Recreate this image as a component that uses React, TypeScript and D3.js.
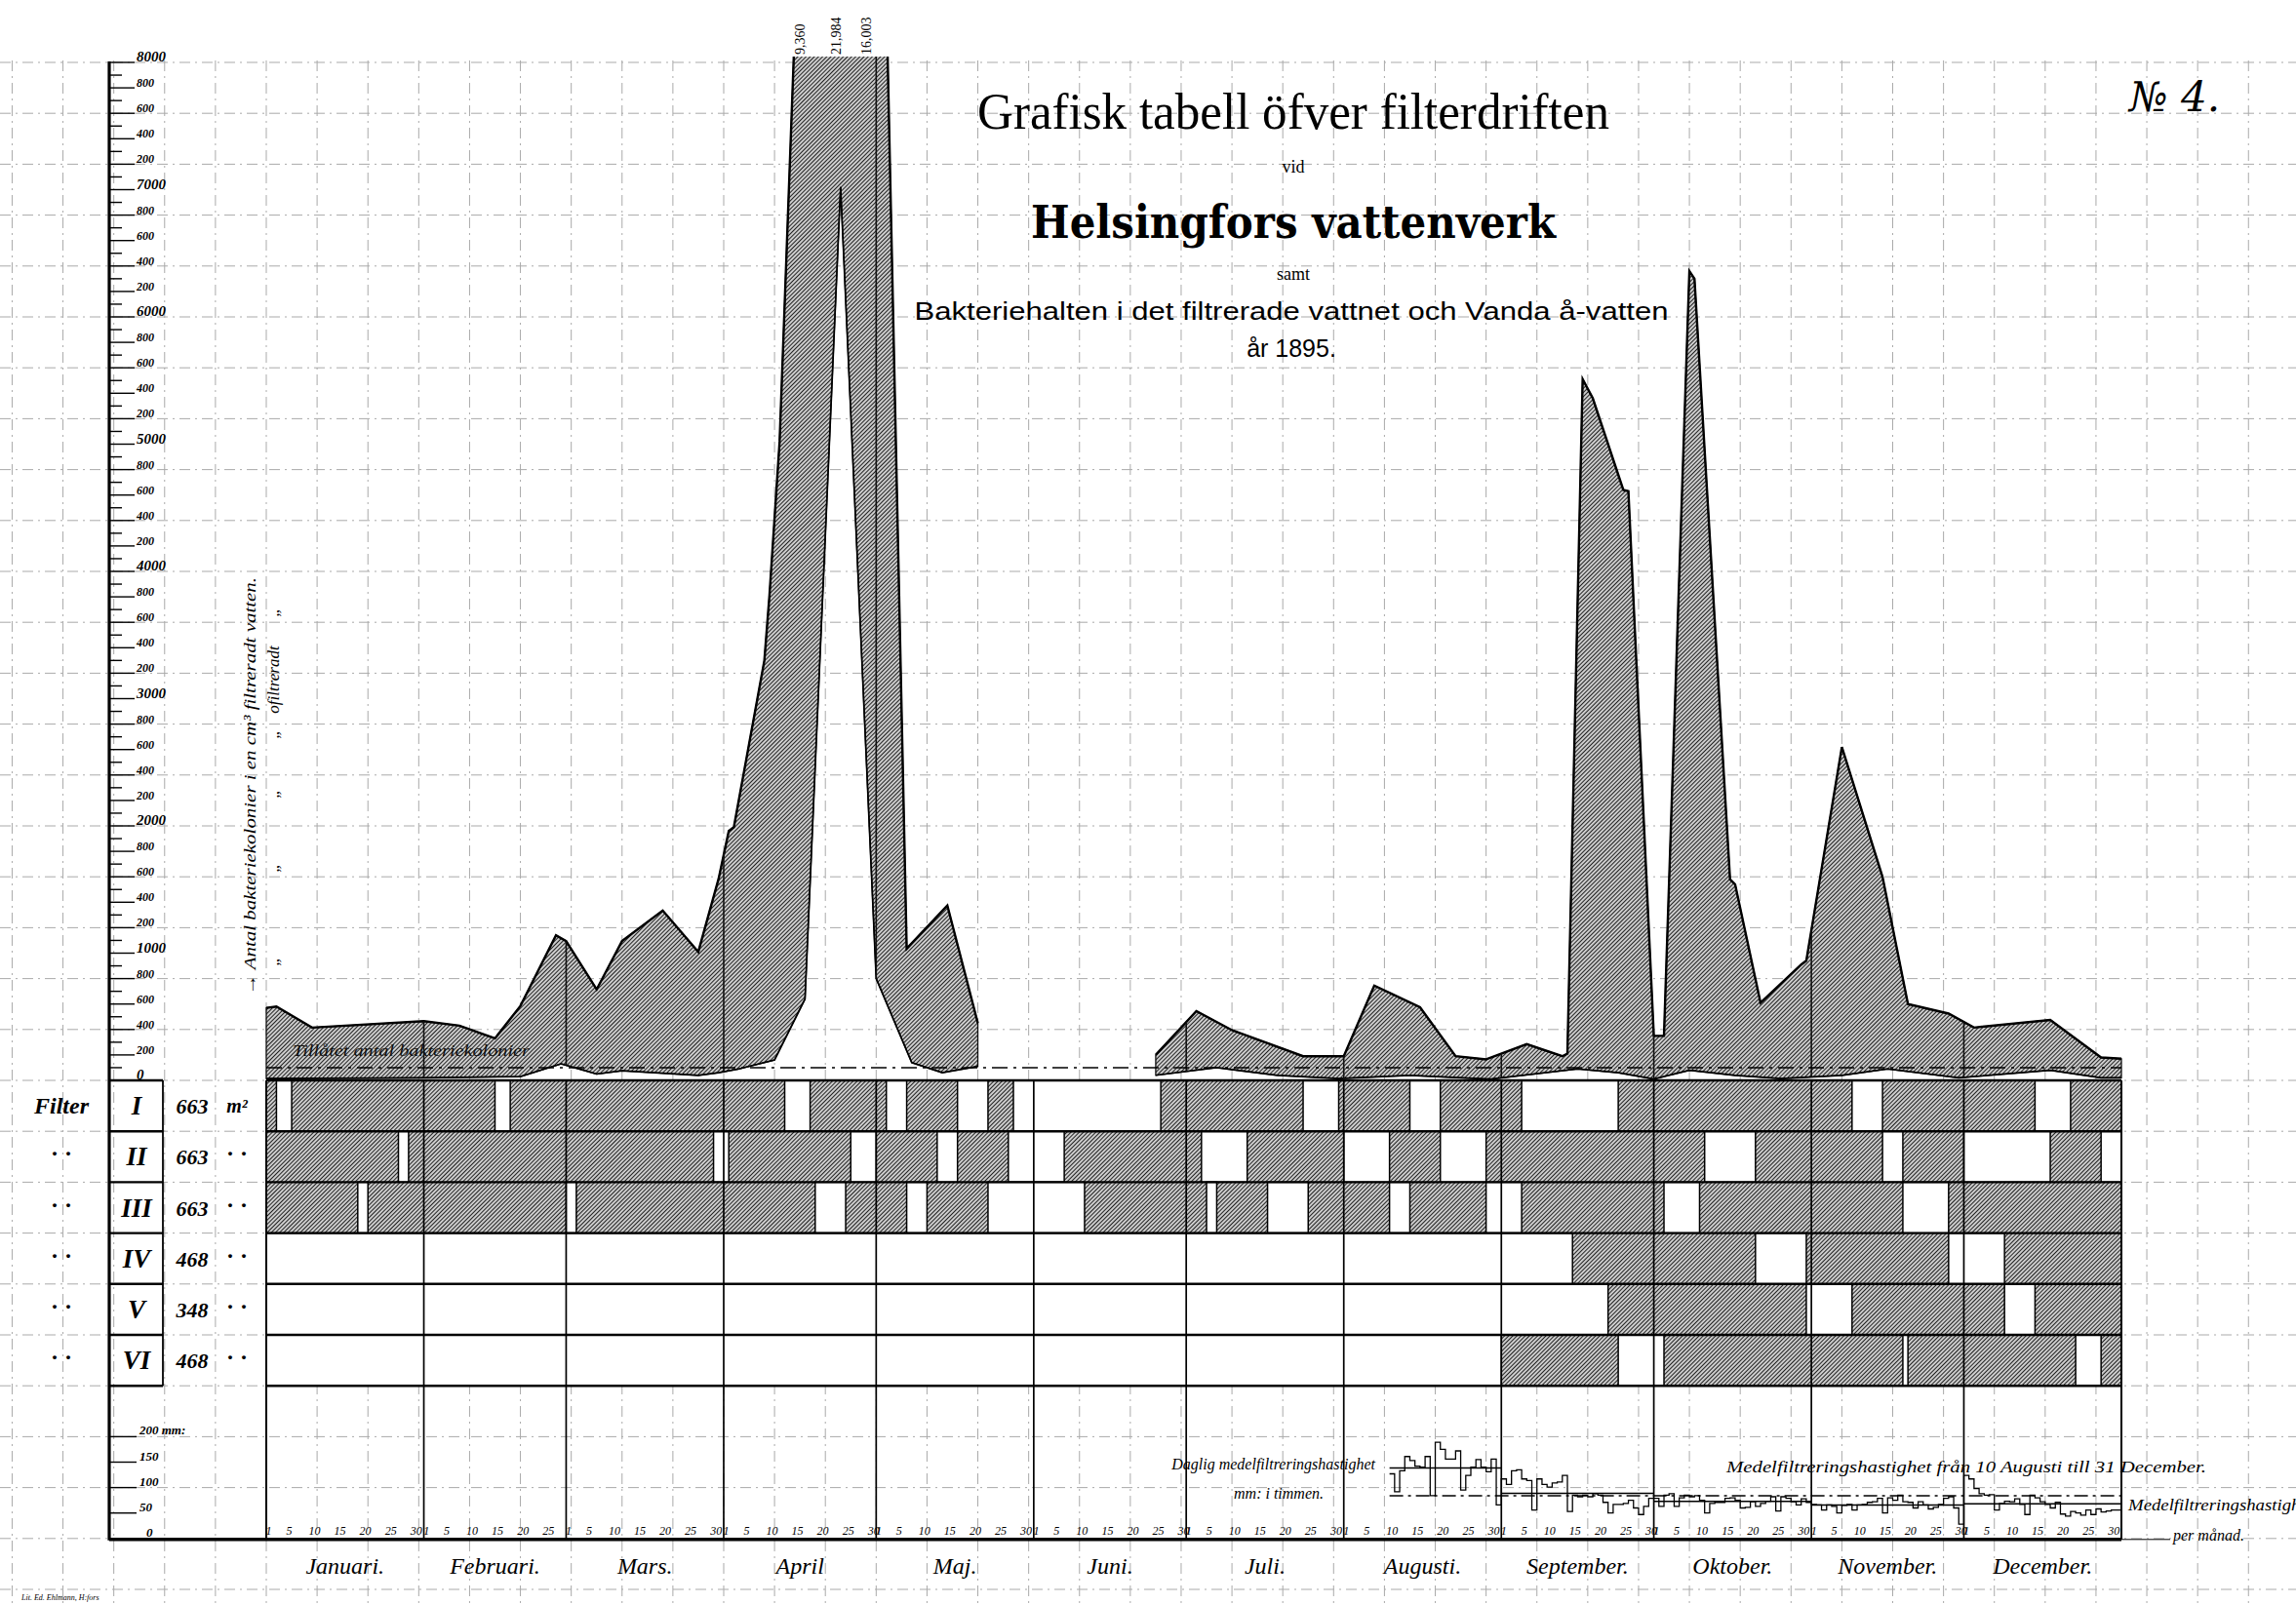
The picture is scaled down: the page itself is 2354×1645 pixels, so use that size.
import { useEffect, useRef } from 'react';
import * as d3 from 'd3';

const W = 2354;
const H = 1645;

// Vanda å-vatten (ofiltreradt), bakteriekolonier i en cm³
const rawDatesSpring = ['01-01', '01-03', '01-10', '02-01', '02-08', '02-15', '02-20', '02-27', '03-01', '03-07', '03-12', '03-20', '03-27', '03-31', '04-02', '04-03', '04-09', '04-10', '04-12', '04-16', '04-23', '04-29', '05-07', '05-15', '05-21'];
const rawValuesSpring = [570, 580, 415, 465, 430, 330, 585, 1140, 1095, 715, 1095, 1335, 1010, 1585, 1960, 1990, 3300, 3810, 5020, 9360, 21984, 16003, 1035, 1375, 450];
const rawDatesAutumn = ['06-25', '07-03', '07-10', '07-24', '08-01', '08-07', '08-16', '08-23', '08-29', '09-06', '09-13', '09-14', '09-17', '09-19', '09-25', '09-26', '10-01', '10-03', '10-08', '10-09', '10-16', '10-17', '10-22', '10-30', '10-31', '11-07', '11-15', '11-20', '11-28', '12-03', '12-18', '12-28', '12-31'];
const rawValuesAutumn = [200, 545, 395, 190, 190, 745, 575, 190, 165, 285, 190, 210, 5510, 5360, 4640, 4630, 350, 350, 6360, 6300, 1580, 1540, 610, 910, 940, 2620, 1600, 600, 525, 415, 475, 180, 170];

// filtreradt vatten
const filtDatesSpring = ['01-01', '02-01', '02-20', '02-28', '03-07', '03-12', '03-27', '03-31', '04-04', '04-11', '04-17', '04-24', '05-01', '05-08', '05-14', '05-21'];
const filtValuesSpring = [15, 20, 30, 130, 50, 75, 40, 60, 90, 160, 640, 7020, 800, 140, 60, 110];
const filtDatesAutumn = ['06-25', '07-07', '07-19', '07-31', '08-14', '08-30', '09-16', '09-24', '10-01', '10-08', '10-17', '10-26', '11-07', '11-16', '11-30', '12-18', '12-28', '12-31'];
const filtValuesAutumn = [40, 100, 40, 15, 40, 10, 90, 60, 10, 80, 40, 15, 40, 90, 20, 80, 20, 20];

const allowedCount = 100;

const peakDates = ['04-16', '04-23', '04-29'];
const peakLabels = ['9,360', '21,984', '16,003'];

// filters: name, area (m²), days out of service (inclusive)
const filterNames = ['I', 'II', 'III', 'IV', 'V', 'VI'];
const filterAreas = ['663', '663', '663', '468', '348', '468'];
const idleI = [['01-03', '01-05'], ['02-15', '02-17'], ['04-13', '04-17'], ['05-03', '05-06'], ['05-17', '05-22'], ['05-28', '06-25'], ['07-24', '07-30'], ['08-14', '08-19'], ['09-05', '09-23'], ['11-09', '11-14'], ['12-15', '12-21']];
const idleII = [['01-27', '01-28'], ['03-30', '04-01'], ['04-26', '04-30'], ['05-13', '05-16'], ['05-27', '06-06'], ['07-04', '07-12'], ['08-01', '08-09'], ['08-20', '08-28'], ['10-11', '10-20'], ['11-15', '11-18'], ['12-01', '12-17'], ['12-28', '12-31']];
const idleIII = [['01-19', '01-20'], ['03-01', '03-02'], ['04-19', '04-24'], ['05-07', '05-10'], ['05-23', '06-10'], ['07-05', '07-06'], ['07-17', '07-24'], ['08-10', '08-13'], ['08-29', '09-04'], ['10-03', '10-09'], ['11-19', '11-27']];
const idleIV = [['01-01', '09-14'], ['10-21', '10-30'], ['11-28', '12-08']];
const idleV = [['01-01', '09-21'], ['10-31', '11-08'], ['12-09', '12-14']];
const idleVI = [['01-01', '08-31'], ['09-24', '10-02'], ['11-19', '11-19'], ['12-23', '12-27']];

const months = ['Januari.', 'Februari.', 'Mars.', 'April', 'Maj.', 'Juni.', 'Juli.', 'Augusti.', 'September.', 'Oktober.', 'November.', 'December.'];
const dayTicks = [1, 5, 10, 15, 20, 25, 30];

// daglig medelfiltreringshastighet, mm i timmen (from 10 Aug)
const rateAug = [127, 92, 133, 161, 153, 142, 140, 161, 84, 189, 175, 156, 156, 172, 95, 124, 140, 155, 140, 131, 156, 66];
const rateSep = [117, 106, 133, 135, 117, 114, 56, 117, 106, 101, 109, 111, 124, 53, 85, 82, 85, 82, 88, 85, 71, 50, 67, 67, 69, 75, 60, 47, 63, 79];
const rateOct = [79, 63, 85, 88, 63, 80, 85, 82, 84, 75, 50, 69, 71, 71, 79, 80, 75, 60, 61, 72, 63, 69, 73, 82, 54, 82, 79, 72, 66, 78, 71];
const rateNov = [67, 66, 56, 66, 63, 50, 65, 67, 56, 66, 67, 71, 72, 79, 50, 80, 75, 85, 72, 71, 60, 72, 66, 58, 61, 67, 79, 82, 60, 28];
const rateDec = [124, 117, 98, 88, 85, 86, 56, 69, 73, 72, 78, 67, 47, 85, 80, 72, 67, 60, 71, 48, 44, 53, 50, 46, 56, 47, 58, 52, 54, 56, 56];
const rateStarts = ['08-10', '09-01', '10-01', '11-01', '12-01'];

const mmTicks = [0, 50, 100, 150, 200];

const SERIF = '"Liberation Serif", "DejaVu Serif", serif';
const SANS = '"Liberation Sans", "DejaVu Sans", sans-serif';

function day(s: string) {
  const [m, d] = s.split('-').map(Number);
  return new Date(1895, m - 1, d);
}
// curve points: the last day of the year is drawn to the right edge
function edge(s: string) {
  return s === '12-31' ? new Date(1896, 0, 1) : day(s);
}

function draw(svg: any) {
  const X0 = 273;
  const X1 = 2175;
  const x = d3.scaleTime().domain([new Date(1895, 0, 1), new Date(1896, 0, 1)]).range([X0, X1]);
  const dayW = (X1 - X0) / 365;
  const y = d3.scaleLinear().domain([0, 8000]).range([1108, 64]);
  const GRID = (1108 - 64) / 20;
  const rowY = (i: number) => 1108 + i * GRID;
  const mm = d3.scaleLinear().domain([0, 200]).range([rowY(9), rowY(7)]);
  const AX = 112;

  svg.append('rect').attr('width', W).attr('height', H).attr('fill', '#fff');

  const defs = svg.append('defs');
  const pat = defs.append('pattern').attr('id', 'hatch').attr('patternUnits', 'userSpaceOnUse')
    .attr('width', 3).attr('height', 3).attr('patternTransform', 'rotate(45)');
  pat.append('rect').attr('width', 3).attr('height', 3).attr('fill', '#fff');
  pat.append('line').attr('x1', 1.5).attr('x2', 1.5).attr('y1', 0).attr('y2', 3)
    .attr('stroke', '#222').attr('stroke-width', 1.45);
  defs.append('clipPath').attr('id', 'topclip').append('rect')
    .attr('x', 0).attr('y', 58).attr('width', W).attr('height', 1108 - 58);

  // graph paper grid
  const grid = svg.append('g').attr('stroke', '#666').attr('stroke-width', 1)
    .attr('stroke-dasharray', '11 5 2 5').attr('opacity', 0.55);
  for (let k = -6; k <= 42; k++) {
    const gx = X0 + k * 10 * dayW;
    if (gx < 0 || gx > W) continue;
    grid.append('line').attr('x1', gx).attr('x2', gx).attr('y1', 62).attr('y2', H);
  }
  for (let k = 0; k <= 30; k++) {
    const gy = 64 + k * GRID;
    if (gy > H) break;
    grid.append('line').attr('x1', 0).attr('x2', W).attr('y1', gy).attr('y2', gy);
  }

  // bacteria band between unfiltered and filtered counts
  const segments = [
    { up: rawDatesSpring.map((d, i) => [d, rawValuesSpring[i]]), lo: filtDatesSpring.map((d, i) => [d, filtValuesSpring[i]]) },
    { up: rawDatesAutumn.map((d, i) => [d, rawValuesAutumn[i]]), lo: filtDatesAutumn.map((d, i) => [d, filtValuesAutumn[i]]) },
  ];
  const toPt = (p: any) => [x(edge(p[0])), y(p[1])] as [number, number];
  const line = d3.line();
  const polys = segments.map(s => line([...s.up.map(toPt), ...s.lo.slice().reverse().map(toPt)]) + 'Z');

  const areaClip = defs.append('clipPath').attr('id', 'areaclip');
  polys.forEach(p => areaClip.append('path').attr('d', p));

  const band = svg.append('g').attr('clip-path', 'url(#topclip)');
  polys.forEach(p => band.append('path').attr('d', p).attr('fill', 'url(#hatch)')
    .attr('stroke', '#111').attr('stroke-width', 1.3));

  const monthStarts = d3.timeMonth.range(new Date(1895, 0, 1), new Date(1896, 0, 1));
  const inner = svg.append('g').attr('clip-path', 'url(#areaclip)');
  monthStarts.slice(1).forEach(m => inner.append('line').attr('x1', x(m)).attr('x2', x(m))
    .attr('y1', 58).attr('y2', 1108).attr('stroke', '#111').attr('stroke-width', 1.6));

  segments.forEach(s => {
    band.append('path').attr('d', line(s.up.map(toPt))).attr('fill', 'none')
      .attr('stroke', '#000').attr('stroke-width', 2.4);
    band.append('path').attr('d', line(s.lo.map(toPt))).attr('fill', 'none')
      .attr('stroke', '#000').attr('stroke-width', 1.7);
  });

  // allowed number of colonies
  svg.append('line').attr('x1', X0).attr('x2', X1).attr('y1', y(allowedCount)).attr('y2', y(allowedCount))
    .attr('stroke', '#000').attr('stroke-width', 1.6).attr('stroke-dasharray', '16 6 3 6');
  svg.append('text').attr('x', 300).attr('y', 1083).attr('font-family', SERIF).attr('font-style', 'italic')
    .attr('font-size', 16).attr('textLength', 243).attr('lengthAdjust', 'spacingAndGlyphs')
    .attr('fill', '#111').text('Tillåtet antal bakteriekolonier');

  peakDates.forEach((d, i) => {
    svg.append('text').attr('transform', `translate(${x(day(d)) + 5},56) rotate(-90)`)
      .attr('font-family', SERIF).attr('font-size', 14).attr('fill', '#000').text(peakLabels[i]);
  });

  // filter rows
  const idle = [idleI, idleII, idleIII, idleIV, idleV, idleVI];
  filterNames.forEach((name, i) => {
    const top = rowY(i);
    svg.append('rect').attr('x', X0).attr('y', top).attr('width', X1 - X0).attr('height', GRID)
      .attr('fill', 'url(#hatch)');
    idle[i].forEach(([a, b]) => {
      svg.append('rect').attr('x', x(day(a))).attr('y', top)
        .attr('width', x(day(b)) + dayW - x(day(a))).attr('height', GRID)
        .attr('fill', '#fff').attr('stroke', '#000').attr('stroke-width', 1.5);
    });
    const cy = top + GRID / 2;
    svg.append('text').attr('x', 140).attr('y', cy + 9).attr('text-anchor', 'middle')
      .attr('font-family', SERIF).attr('font-weight', 'bold').attr('font-style', 'italic')
      .attr('font-size', 27).text(name);
    svg.append('text').attr('x', 197).attr('y', cy + 8).attr('text-anchor', 'middle')
      .attr('font-family', SERIF).attr('font-weight', 'bold').attr('font-style', 'italic')
      .attr('font-size', 22).text(filterAreas[i]);
    if (i === 0) {
      svg.append('text').attr('x', 63).attr('y', cy + 8).attr('text-anchor', 'middle')
        .attr('font-family', SERIF).attr('font-weight', 'bold').attr('font-style', 'italic')
        .attr('font-size', 24).text('Filter');
      svg.append('text').attr('x', 243).attr('y', cy + 7).attr('text-anchor', 'middle')
        .attr('font-family', SERIF).attr('font-weight', 'bold').attr('font-style', 'italic')
        .attr('font-size', 20).text('m²');
    } else {
      [63, 243].forEach(tx => svg.append('text').attr('x', tx).attr('y', cy + 5).attr('text-anchor', 'middle')
        .attr('font-family', SERIF).attr('font-weight', 'bold').attr('font-size', 24).text('· ·'));
    }
  });

  const ink = svg.append('g').attr('stroke', '#000');
  for (let i = 0; i <= 6; i++) {
    ink.append('line').attr('x1', AX).attr('x2', 167).attr('y1', rowY(i)).attr('y2', rowY(i)).attr('stroke-width', 2.4);
    ink.append('line').attr('x1', X0).attr('x2', X1).attr('y1', rowY(i)).attr('y2', rowY(i)).attr('stroke-width', 2.4);
  }
  ink.append('line').attr('x1', AX).attr('x2', X1).attr('y1', mm(0) + 1).attr('y2', mm(0) + 1).attr('stroke-width', 3.5);
  ink.append('line').attr('x1', AX).attr('x2', AX).attr('y1', 63).attr('y2', mm(0) + 2).attr('stroke-width', 3.2);
  ink.append('line').attr('x1', 167).attr('x2', 167).attr('y1', rowY(0)).attr('y2', rowY(6)).attr('stroke-width', 1.8);
  [X0, X1].forEach(vx => ink.append('line').attr('x1', vx).attr('x2', vx).attr('y1', rowY(0)).attr('y2', mm(0) + 1).attr('stroke-width', 2));
  monthStarts.slice(1).forEach(m => ink.append('line').attr('x1', x(m)).attr('x2', x(m))
    .attr('y1', rowY(0)).attr('y2', mm(0) + 1).attr('stroke-width', 1.7));
  ink.append('line').attr('x1', X1).attr('x2', 2225).attr('y1', mm(0) + 1).attr('y2', mm(0) + 1).attr('stroke-width', 1);

  // bacteria scale
  d3.range(0, 8001, 100).forEach(v => {
    const ty = y(v);
    const major = v % 200 === 0;
    ink.append('line').attr('x1', AX).attr('x2', AX + (major ? 26 : 13)).attr('y1', ty).attr('y2', ty)
      .attr('stroke-width', 1.4);
    if (major) {
      const thousand = v % 1000 === 0;
      svg.append('text').attr('x', 140).attr('y', ty - 1).attr('font-family', SERIF)
        .attr('font-style', 'italic').attr('font-weight', 'bold').attr('font-size', thousand ? 15 : 12)
        .text(thousand ? String(v) : String(v % 1000));
    }
  });

  // mm scale
  mmTicks.forEach(v => {
    ink.append('line').attr('x1', AX).attr('x2', AX + 28).attr('y1', mm(v)).attr('y2', mm(v)).attr('stroke-width', 1.4);
    svg.append('text').attr('x', v === 0 ? 150 : 143).attr('y', mm(v) - 2).attr('font-family', SERIF)
      .attr('font-style', 'italic').attr('font-weight', 'bold').attr('font-size', 13)
      .text(v === 200 ? '200 mm:' : String(v));
  });

  // day numbers and month names
  monthStarts.forEach((m, mi) => {
    const next = d3.timeMonth.offset(m, 1);
    const len = d3.timeDay.count(m, next);
    dayTicks.filter(d => d <= len).forEach(d => {
      const dd = d3.timeDay.offset(m, d - 1);
      svg.append('text').attr('x', x(dd) + dayW / 2).attr('y', 1574).attr('text-anchor', 'middle')
        .attr('font-family', SERIF).attr('font-style', 'italic').attr('font-size', 12).text(String(d));
    });
    svg.append('text').attr('x', (x(m) + x(next)) / 2).attr('y', 1614).attr('text-anchor', 'middle')
      .attr('font-family', SERIF).attr('font-style', 'italic').attr('font-size', 24).text(months[mi]);
  });

  // filtration rate steps
  const rates = [rateAug, rateSep, rateOct, rateNov, rateDec];
  const daily: [Date, number][] = [];
  rates.forEach((arr, k) => arr.forEach((v, i) => daily.push([d3.timeDay.offset(day(rateStarts[k]), i), v])));
  const stepPts = daily.map(([d, v]) => [x(d), mm(v)] as [number, number]);
  stepPts.push([X1, mm(daily[daily.length - 1][1])]);
  svg.append('path').attr('d', d3.line().curve(d3.curveStepAfter)(stepPts)).attr('fill', 'none')
    .attr('stroke', '#000').attr('stroke-width', 1.3);

  const overall = d3.mean(daily, d => d[1]) as number;
  svg.append('line').attr('x1', x(day(rateStarts[0]))).attr('x2', X1).attr('y1', mm(overall)).attr('y2', mm(overall))
    .attr('stroke', '#000').attr('stroke-width', 1.5).attr('stroke-dasharray', '14 5 3 5');
  rates.forEach((arr, k) => {
    const a = day(rateStarts[k]);
    const b = d3.timeDay.offset(a, arr.length);
    const mv = d3.mean(arr) as number;
    svg.append('line').attr('x1', x(a)).attr('x2', x(b)).attr('y1', mm(mv)).attr('y2', mm(mv))
      .attr('stroke', '#000').attr('stroke-width', 1.5);
  });

  const note = (tx: number, ty: number, t: string, anchor = 'start', len?: number) => {
    const el = svg.append('text').attr('x', tx).attr('y', ty).attr('text-anchor', anchor)
      .attr('font-family', SERIF).attr('font-style', 'italic').attr('font-size', 16).text(t);
    if (len) el.attr('textLength', len).attr('lengthAdjust', 'spacingAndGlyphs');
  };
  note(1410, 1507, 'Daglig medelfiltreringshastighet', 'end');
  note(1357, 1537, 'mm: i timmen.', 'end');
  note(1770, 1510, 'Medelfiltreringshastighet från 10 Augusti till 31 December.', 'start', 492);
  note(2182, 1549, 'Medelfiltreringshastighet', 'start', 190);
  note(2228, 1580, 'per månad.');

  // axis caption
  svg.append('text').attr('transform', 'translate(262,1020) rotate(-90)').attr('font-family', SERIF)
    .attr('font-style', 'italic').attr('font-size', 17).attr('textLength', 428).attr('lengthAdjust', 'spacingAndGlyphs')
    .text('→ Antal bakteriekolonier i en cm³ filtreradt vatten.');
  [[986, '„'], [890, '„'], [814, '„'], [753, '„'], [697, 'ofiltreradt'], [628, '„']].forEach(([ty, t]) => {
    svg.append('text').attr('transform', `translate(286,${ty}) rotate(-90)`).attr('text-anchor', 'middle')
      .attr('font-family', SERIF).attr('font-style', 'italic').attr('font-size', 17).text(t);
  });

  // titles
  const title = (ty: number, t: string, size: number, opts: any = {}) => {
    const el = svg.append('text').attr('x', opts.cx ?? 1326).attr('y', ty).attr('text-anchor', 'middle')
      .attr('font-family', opts.family ?? SERIF).attr('font-size', size).attr('fill', '#000').text(t);
    if (opts.bold) el.attr('font-weight', 'bold');
    if (opts.len) el.attr('textLength', opts.len).attr('lengthAdjust', 'spacingAndGlyphs');
  };
  title(132, 'Grafisk tabell öfver filterdriften', 52, { len: 648 });
  title(177, 'vid', 18);
  title(244, 'Helsingfors vattenverk', 46, { bold: true, len: 538, family: '"DejaVu Serif", serif' });
  title(287, 'samt', 18);
  title(328, 'Bakteriehalten i det filtrerade vattnet och Vanda å-vatten', 25, { family: SANS, len: 773, cx: 1324 });
  title(366, 'år 1895.', 25, { family: SANS, cx: 1324 });

  svg.append('text').attr('x', 2183).attr('y', 114).attr('font-family', '"DejaVu Serif", serif')
    .attr('font-style', 'italic').attr('font-size', 42).text('№ 4.');
  svg.append('text').attr('x', 22).attr('y', 1641).attr('font-family', SERIF).attr('font-style', 'italic')
    .attr('font-size', 8).text('Lit. Ed. Ehlmann, H:fors');
}

export default function App() {
  const ref = useRef<SVGSVGElement>(null);

  useEffect(() => {
    const svg = d3.select(ref.current);
    svg.selectAll('*').remove();
    draw(svg);
  }, []);

  return (
    <svg ref={ref} width={W} height={H}
      style={{ position: 'absolute', left: 0, top: 0, display: 'block', background: '#fff' }} />
  );
}
